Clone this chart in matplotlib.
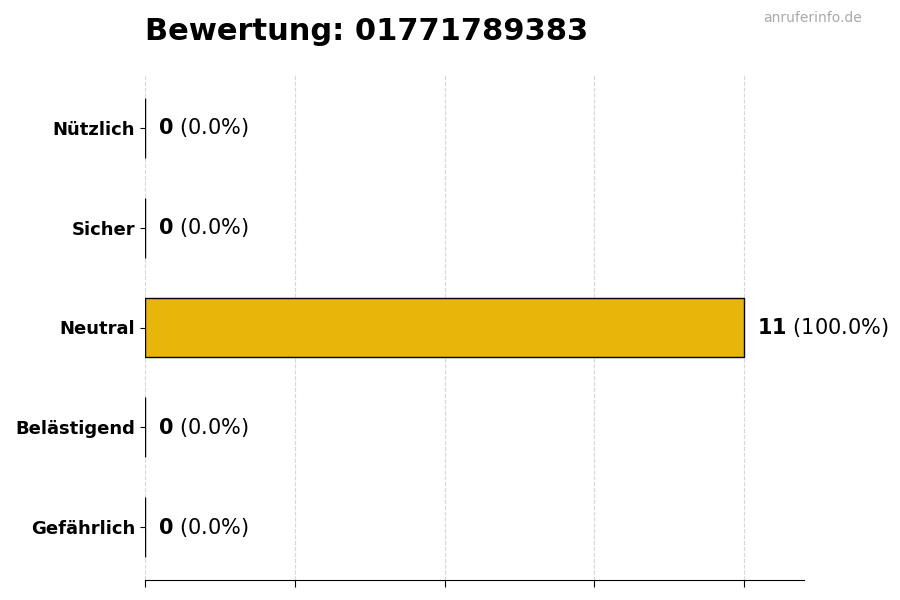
import numpy as np
import matplotlib
matplotlib.use("Agg")
import matplotlib.pyplot as plt

# ---------------------
# Data

categories = ["Gefährlich", "Belästigend", "Neutral", "Sicher", "Nützlich"]
counts = [0, 0, 11, 0, 0]
title_text = "Bewertung: 01771789383"
watermark = "anruferinfo.de"

bar_color = "#E8B50A"

# ---------------------
# Plot

total = sum(counts)
percents = [100.0 * c / total if total else 0.0 for c in counts]
xmax = max(counts) * 1.1

fig = plt.figure(figsize=(9, 6), dpi=100)
ax = fig.add_axes([145 / 900, 20 / 600, 659 / 900, 505 / 600])

ypos = np.arange(len(categories))
ax.barh(ypos, counts, height=0.6, color=bar_color, edgecolor="black", linewidth=1, zorder=2)

ax.set_xlim(0, xmax)
ax.set_xticks(np.linspace(0, max(counts), 5))
ax.set_xticklabels([])
ax.tick_params(axis="x", length=5)
ax.set_yticks(ypos)
ax.set_yticklabels(categories, fontsize=13, fontweight="bold")

ax.grid(axis="x", linestyle="--", color="#cccccc", linewidth=0.8, alpha=0.8, zorder=0)
ax.set_axisbelow(True)

for side in ("top", "right", "left"):
    ax.spines[side].set_visible(False)

for y, c, p in zip(ypos, counts, percents):
    ax.text(c + xmax * 0.02, y, r"$\bf{%d}$ (%.1f%%)" % (c, p),
            va="center", ha="left", fontsize=15)

fig.text(145 / 900, 1 - 40 / 600, title_text, fontsize=22, fontweight="bold",
         ha="left", va="baseline")
fig.text(862 / 900, 1 - 22 / 600, watermark, fontsize=10, color="#aaaaaa",
         ha="right", va="baseline")

fig.savefig("out.png", dpi=100)
